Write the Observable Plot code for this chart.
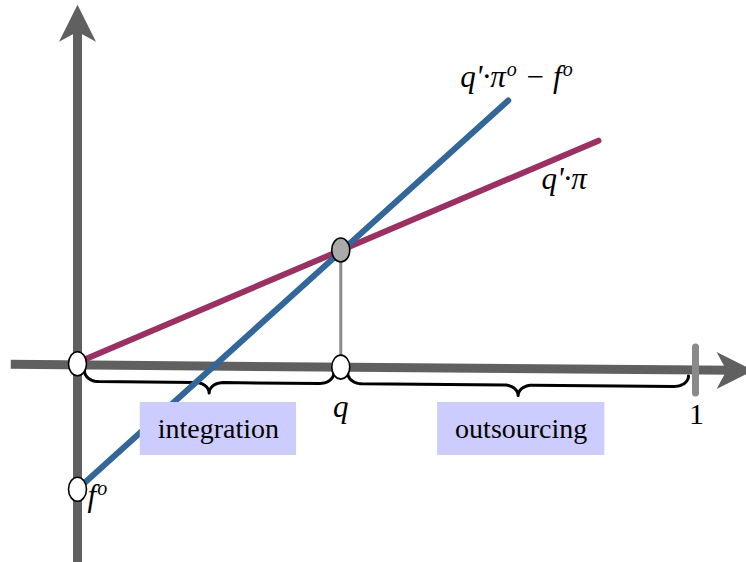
<!DOCTYPE html>
<html><head><meta charset="utf-8">
<script src="https://cdn.jsdelivr.net/npm/d3@7"></script>
<script src="https://cdn.jsdelivr.net/npm/@observablehq/plot@0.6"></script>
<style>html,body{margin:0;padding:0;background:#fff}
svg text{font-family:"Liberation Serif","Times New Roman",serif !important}</style>
</head><body><div id="chart"></div>
<script>
// ---------------- data ----------------
const qShare = 0.426;                       // threshold q on [0,1]
const lineLabels = ["q'·π", "q'·π^o − f^o"];
const lineColors = ["#9b3163", "#336699"];
const lineStartX = [0, 0];
const lineStartY = [0, -0.205];
const lineEndX = [0.843, 0.697];
const lineEndY = [0.359, 0.424];
const fixedCostY = -0.205;                  // f° intercept
const crossY = 0.182;                       // value of both lines at q
const regionLabels = ["integration", "outsourcing"];
const regionStart = [0, qShare];
const regionEnd = [qShare, 1];
const tickValues = [1];
const tickLabels = ["1"];

// ---------------- layout ----------------
const W = 746, H = 562;
const K = 618;                              // pixels per unit (both axes)
const axisGray = "#606060";
const serif = "'Liberation Serif', 'Times New Roman', serif";
// slightly tilted horizontal axis (as in the drawing)
const axL = {x: -0.108, y: -0.003}, axR = {x: 1.094, y: -0.013};
const axisY = x => axL.y + (x - axL.x) * (axR.y - axL.y) / (axR.x - axL.x);
const yAxisBottom = -0.33, yAxisTip = 0.579;

const dart = {draw(ctx) {
  ctx.moveTo(0, 0); ctx.lineTo(18.5, 37); ctx.lineTo(0, 27); ctx.lineTo(-18.5, 37); ctx.closePath();
}};
const oval = {draw(ctx) {
  const rx = 9, ry = 12, k = 0.5523;
  ctx.moveTo(rx, 0);
  ctx.bezierCurveTo(rx, k * ry, k * rx, ry, 0, ry);
  ctx.bezierCurveTo(-k * rx, ry, -rx, k * ry, -rx, 0);
  ctx.bezierCurveTo(-rx, -k * ry, -k * rx, -ry, 0, -ry);
  ctx.bezierCurveTo(k * rx, -ry, rx, -k * ry, rx, 0);
  ctx.closePath();
}};

const lines = lineLabels.flatMap((name, i) => [
  {name, x: lineStartX[i], y: lineStartY[i]},
  {name, x: lineEndX[i], y: lineEndY[i]}
]);
const lineEnds = lineLabels.map((name, i) => ({name, x: lineEndX[i], y: lineEndY[i], color: lineColors[i]}));

// curly braces under the axis
function brace(x0, x1, id) {
  const a = x0 + 7 / K, b = x1 - 7 / K, m = (a + b) / 2;
  const rx = 14 / K, ry = 10.5, off = 6;
  const pts = [];
  const push = (x, d) => pts.push({id, x, y: axisY(x) - (off + d) / K});
  const N = 12;
  for (let i = 0; i <= N; i++) { const t = Math.PI - (Math.PI / 2) * i / N; push(a + rx + rx * Math.cos(t), ry * Math.sin(t)); }
  for (let i = 0; i <= N; i++) { const t = -Math.PI / 2 + (Math.PI / 2) * i / N; push(m - rx + rx * Math.cos(t), 2 * ry + ry * Math.sin(t)); }
  for (let i = 0; i <= N; i++) { const t = Math.PI + (Math.PI / 2) * i / N; push(m + rx + rx * Math.cos(t), 2 * ry + ry * Math.sin(t)); }
  for (let i = 0; i <= N; i++) { const t = Math.PI / 2 - (Math.PI / 2) * i / N; push(b - rx + rx * Math.cos(t), ry * Math.sin(t)); }
  return pts;
}
const braces = regionLabels.flatMap((r, i) => brace(regionStart[i], regionEnd[i], r));

// label boxes
const boxCenterX = [0.228, 0.718];
const boxCenterY = -0.1076;
const regionFont = 28;
const mctx = document.createElement("canvas").getContext("2d");
mctx.font = `${regionFont}px ${serif}`;
const boxes = regionLabels.map((label, i) => {
  const w = mctx.measureText(label).width / 2 + 17.5;
  return {label, x: boxCenterX[i], y: boxCenterY,
    x1: boxCenterX[i] - w / K, x2: boxCenterX[i] + w / K,
    y1: boxCenterY - 26.5 / K, y2: boxCenterY + 26.5 / K};
});

const points = [
  {x: 0, y: -0.002, fill: "white"},
  {x: qShare, y: axisY(qShare), fill: "white"},
  {x: 0, y: fixedCostY, fill: "white"},
  {x: qShare, y: crossY, fill: "#aaaaaa"}
];

const plot = Plot.plot({
  width: W, height: H,
  margin: 0,
  style: {fontFamily: serif},
  x: {domain: [0, 1], range: [77, 77 + K], axis: null},
  y: {domain: [0, 1], range: [362, 362 - K], axis: null},
  marks: [
    // axes
    Plot.line([{x: axL.x, y: axL.y}, {x: axR.x - 20 / K, y: axisY(axR.x - 20 / K)}],
      {x: "x", y: "y", stroke: axisGray, strokeWidth: 9, strokeLinecap: "butt"}),
    Plot.line([{x: 0, y: yAxisBottom}, {x: 0, y: yAxisTip - 20 / K}],
      {x: "x", y: "y", stroke: axisGray, strokeWidth: 9, strokeLinecap: "butt"}),
    Plot.dot([{x: 0, y: yAxisTip}], {x: "x", y: "y", symbol: dart, r: 10, fill: axisGray, stroke: null, rotate: 0}),
    Plot.dot([{x: axR.x, y: axR.y}], {x: "x", y: "y", symbol: dart, r: 10, fill: axisGray, stroke: null, rotate: 90}),
    // tick at 1
    Plot.link(tickValues, {x1: d => d, x2: d => d, y1: d => axisY(d) - 23 / K, y2: d => axisY(d) + 23 / K,
      stroke: "#8a8a8a", strokeWidth: 7, strokeLinecap: "round"}),
    // braces
    Plot.line(braces, {x: "x", y: "y", z: "id", stroke: "black", strokeWidth: 3, strokeLinejoin: "round", strokeLinecap: "round"}),
    // lines
    Plot.line(lines, {x: "x", y: "y", z: "name", stroke: d => lineColors[lineLabels.indexOf(d.name)],
      strokeWidth: 6, strokeLinecap: "round"}),
    // label boxes
    Plot.rect(boxes, {x1: "x1", x2: "x2", y1: "y1", y2: "y2", fill: "#ccccff"}),
    Plot.text(boxes, {x: "x", y: "y", text: "label", fontFamily: serif, fontSize: regionFont, fill: "black"}),
    // connector
    Plot.link([qShare], {x1: d => d, x2: d => d, y1: d => axisY(d), y2: crossY, stroke: "#8c8c8c", strokeWidth: 3}),
    // points
    Plot.dot(points, {x: "x", y: "y", symbol: oval, r: 10, fill: "fill", stroke: "black", strokeWidth: 1.6}),
    // text labels
    Plot.text([qShare], {x: d => d, y: d => axisY(d), text: () => "q", dy: 40, dx: 0,
      fontFamily: serif, fontStyle: "italic", fontSize: 31, fill: "black"}),
    Plot.text(tickValues, {x: d => d, y: d => axisY(d), text: (d, i) => tickLabels[i], dy: 44, dx: 1,
      fontFamily: serif, fontSize: 30, fill: "black"}),
    Plot.text([fixedCostY], {x: 0, y: d => d, text: () => "f^o", dx: 10, dy: 7, textAnchor: "start",
      fontFamily: serif, fontStyle: "italic", fontSize: 31, fill: "black"}),
    Plot.text(lineEnds.slice(1), {x: "x", y: "y", text: "name", dx: -48, dy: -23, textAnchor: "start",
      fontFamily: serif, fontStyle: "italic", fontSize: 31, fill: "black"}),
    Plot.text(lineEnds.slice(0, 1), {x: "x", y: "y", text: "name", dx: -57, dy: 38, textAnchor: "start",
      fontFamily: serif, fontStyle: "italic", fontSize: 31, fill: "black"})
  ]
});

// superscript "o" rendering for labels written with ^o
const ns = "http://www.w3.org/2000/svg";
plot.querySelectorAll("text").forEach(t => {
  const s = t.textContent;
  if (!s.includes("^")) return;
  const fs = parseFloat(t.closest("[font-size]")?.getAttribute("font-size")) || 31;
  const shift = Math.round(fs * 0.36);
  t.textContent = "";
  let raised = false;
  s.split(/(\^o)/).forEach(p => {
    if (!p) return;
    const ts = document.createElementNS(ns, "tspan");
    if (p === "^o") {
      ts.textContent = "o";
      ts.setAttribute("font-size", Math.round(fs * 0.66));
      ts.setAttribute("dx", 1);
      ts.setAttribute("dy", -shift);
      raised = true;
    } else {
      ts.textContent = p;
      if (raised) { ts.setAttribute("dy", shift); raised = false; }
    }
    t.appendChild(ts);
  });
});

document.getElementById("chart").appendChild(plot);
</script>
</body></html>
